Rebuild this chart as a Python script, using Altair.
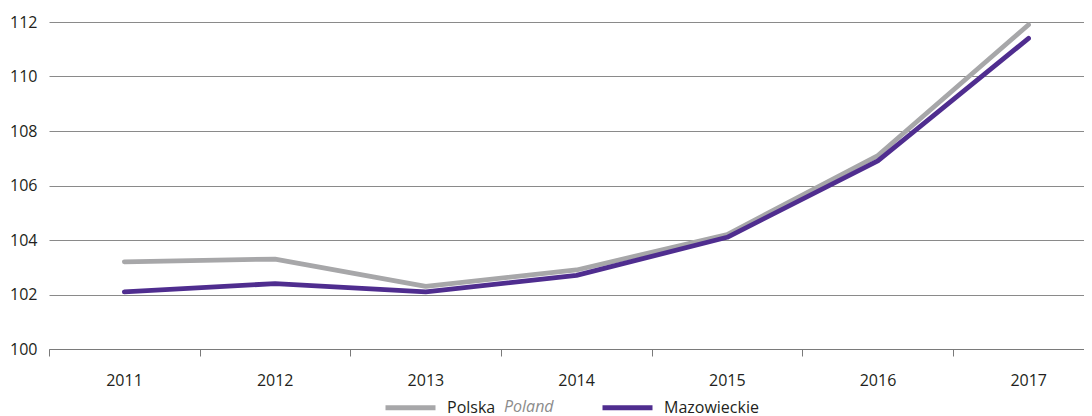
import altair as alt
import pandas as pd

years = [2011, 2012, 2013, 2014, 2015, 2016, 2017]
polska = [103.2, 103.3, 102.3, 102.9, 104.2, 107.1, 111.9]
mazowieckie = [102.1, 102.4, 102.1, 102.7, 104.1, 106.9, 111.4]
series_names = ["Polska", "Mazowieckie"]
series_colors = ["#a7a7a9", "#4f2d8f"]
y_ticks = [100, 102, 104, 106, 108, 110, 112]
x_boundaries = [2010.5, 2011.5, 2012.5, 2013.5, 2014.5, 2015.5, 2016.5]

rows = []
for y, p, m in zip(years, polska, mazowieckie):
    rows.append({"year": y, "value": p, "series": "Polska"})
    rows.append({"year": y, "value": m, "series": "Mazowieckie"})
df = pd.DataFrame(rows)

FONT = "Open Sans"

lines = alt.Chart(df).mark_line(strokeWidth=4.8, strokeCap="round", strokeJoin="round").encode(
    x=alt.X(
        "year:Q",
        scale=alt.Scale(domain=[2010.5, 2017.368], nice=False, zero=False),
        axis=alt.Axis(
            values=x_boundaries,
            labelExpr="format(datum.value + 0.5, 'd')",
            labelOffset=75,
            labelPadding=16,
            tickSize=7,
            tickColor="#7a7a7a",
            domainColor="#7a7a7a",
            labelFlush=False,
            labelOverlap=False,
            labelBound=False,
            grid=False,
            title=None,
        ),
    ),
    y=alt.Y(
        "value:Q",
        scale=alt.Scale(domain=[100, 112], nice=False, zero=False),
        axis=alt.Axis(
            values=y_ticks,
            ticks=False,
            domain=False,
            labelPadding=12,
            gridColor="#8a8a8a",
            gridWidth=1,
            title=None,
        ),
    ),
    color=alt.Color(
        "series:N",
        scale=alt.Scale(domain=series_names, range=series_colors),
        legend=alt.Legend(
            orient="none",
            legendX=334,
            legendY=358,
            padding=0,
            direction="horizontal",
            title=None,
            symbolType="stroke",
            symbolSize=2500,
            symbolStrokeWidth=5,
            labelOffset=9,
            columnPadding=96,
            labelFontSize=16,
            labelFont=FONT,
            labelColor="#231f20",
        ),
    ),
)

poland_df = pd.DataFrame({"t": ["Poland"]})
poland = alt.Chart(poland_df).mark_text(
    align="left", baseline="middle", fontStyle="italic", fontSize=16, font=FONT, color="#8c8c8c"
).encode(x=alt.value(455), y=alt.value(385), text="t:N")

chart = alt.layer(lines, poland).properties(
    width=1035,
    height=327,
    autosize=alt.AutoSizeParams(type="none"),
    padding={"left": 41, "top": 14, "right": 0, "bottom": 70},
).configure_axis(
    labelFont=FONT, labelFontSize=16, labelColor="#231f20"
).configure_view(stroke=None)

chart.save("out.html", embed_options={"renderer": "svg", "actions": False})
